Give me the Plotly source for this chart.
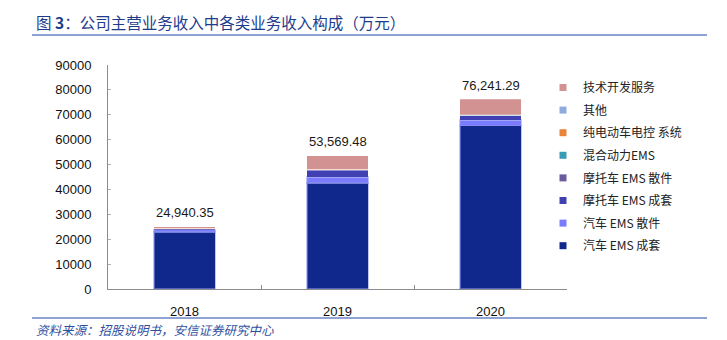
import plotly.graph_objects as go

# Revenue breakdown by business line (unit: 10k CNY)
years = ["2018", "2019", "2020"]

series_names = [
    "汽车 EMS 成套",
    "汽车 EMS 散件",
    "摩托车 EMS 成套",
    "摩托车 EMS 散件",
    "混合动力EMS",
    "纯电动车电控 系统",
    "其他",
    "技术开发服务",
]
car_ems_set = [22900.00, 42590.00, 65610.00]
car_ems_parts = [980.00, 2410.00, 2290.00]
moto_ems_set = [310.00, 2810.00, 1730.00]
moto_ems_parts = [60.00, 90.00, 70.00]
hybrid_ems = [40.00, 60.00, 50.00]
ev_control = [90.00, 120.00, 130.00]
other = [60.00, 80.00, 60.00]
tech_service = [500.35, 5409.48, 6301.29]

totals = [24940.35, 53569.48, 76241.29]

series_values = [
    car_ems_set, car_ems_parts, moto_ems_set, moto_ems_parts,
    hybrid_ems, ev_control, other, tech_service,
]
series_colors = [
    "#10288C", "#7B7BFF", "#4040B2", "#6A5A9E",
    "#3A9BB5", "#E8833A", "#8FAADC", "#D39292",
]

y_ticks = [0, 10000, 20000, 30000, 40000, 50000, 60000, 70000, 80000, 90000]

W, H = 727, 340
L, R, T, B = 108, 160, 65, 51
PW, PH = W - L - R, H - T - B


def px_x(px):
    return (px - L) / PW


def px_y(py):
    return (H - B - py) / PH


FONT = "Arial, Liberation Sans, Noto Sans CJK SC, sans-serif"
CJK = "Noto Sans CJK SC, sans-serif"

fig = go.Figure()

for name, vals, col in zip(series_names, series_values, series_colors):
    halo = name in ("汽车 EMS 成套", "汽车 EMS 散件")
    fig.add_trace(go.Bar(
        x=years, y=vals, name=name, showlegend=False,
        marker=dict(
            color=col,
            line=dict(color="rgba(140,150,235,0.55)" if halo else "rgba(255,255,255,0.4)",
                      width=1.2 if halo else 0.6),
        ),
        hoverinfo="skip",
    ))

# legend entries with small square swatches, top item first
for i, (name, col) in enumerate(reversed(list(zip(series_names, series_colors)))):
    fig.add_trace(go.Scatter(
        x=[years[0]], y=[None], mode="markers", name=name,
        legendgroup=f"g{i}",
        marker=dict(symbol="square", size=7, color=col, line=dict(width=0)),
    ))

# total labels above each column (category index on the x axis)
total_labels = [
    dict(
        x=idx, y=tot, xref="x", yref="y", text=f"{tot:,.2f}",
        showarrow=False, xanchor="center", yanchor="middle", yshift=14,
        font=dict(family=FONT, size=13, color="#1a1a1a"),
    )
    for idx, tot in enumerate(totals)
]

fig.update_layout(
    width=W, height=H,
    margin=dict(l=L, r=R, t=T, b=B, pad=0),
    paper_bgcolor="white", plot_bgcolor="white",
    barmode="stack", bargap=0.6,
    font=dict(family=FONT, size=13, color="#111111"),
    showlegend=True,
    legend=dict(
        x=px_x(543), y=px_y(73), xanchor="left", yanchor="top",
        xref="paper", yref="paper",
        traceorder="grouped", tracegroupgap=3.6,
        font=dict(family=CJK, size=12, color="#222222"),
        bgcolor="rgba(0,0,0,0)", itemwidth=30,
    ),
    xaxis=dict(
        type="category", categoryorder="array", categoryarray=years,
        range=[-0.5, len(years) - 0.5],
        showgrid=False, zeroline=False,
        showline=True, linecolor="#8c8c8c", linewidth=1,
        ticks="inside", ticklen=4, tickcolor="#8c8c8c",
        tickson="boundaries",
        tickfont=dict(family=FONT, size=13, color="#111111"),
        ticklabelstandoff=10,
    ),
    yaxis=dict(
        range=[0, 90000], tickvals=y_ticks, ticktext=[str(v) for v in y_ticks],
        showgrid=False, zeroline=False,
        showline=True, linecolor="#8c8c8c", linewidth=1,
        ticks="inside", ticklen=3, tickcolor="#b0b0b0",
        tickfont=dict(family=FONT, size=13, color="#111111"),
        ticklabelstandoff=13,
    ),
    annotations=total_labels + [
        dict(
            text="图 <b>3</b>：公司主营业务收入中各类业务收入构成（万元）",
            xref="paper", yref="paper", x=px_x(34), y=px_y(22),
            xanchor="left", yanchor="middle", showarrow=False,
            font=dict(family=CJK, size=15.5, color="#1E3C8C"),
        ),
        dict(
            text="<i>资料来源：招股说明书，安信证券研究中心</i>",
            xref="paper", yref="paper", x=px_x(34), y=px_y(329),
            xanchor="left", yanchor="middle", showarrow=False,
            font=dict(family=CJK, size=12.5, color="#2E4FA0"),
        ),
    ],
    shapes=[
        dict(type="line", xref="paper", yref="paper",
             x0=px_x(32), x1=px_x(707), y0=px_y(35), y1=px_y(35),
             line=dict(color="#8EA3D4", width=2)),
        dict(type="line", xref="paper", yref="paper",
             x0=px_x(32), x1=px_x(707), y0=px_y(318), y1=px_y(318),
             line=dict(color="#8EA3D4", width=2)),
    ],
)

fig.write_html("out.html")
